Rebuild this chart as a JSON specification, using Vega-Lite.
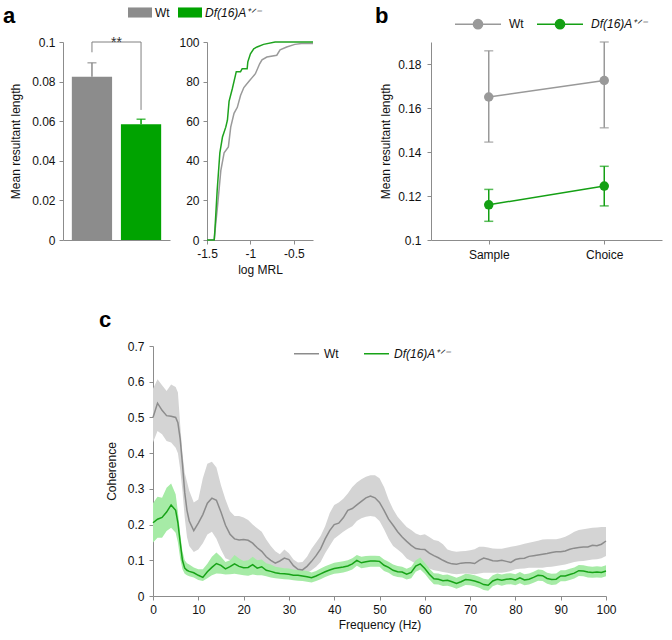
{
"$schema": "https://vega.github.io/schema/vega-lite/v6.json",
"background": "white",
"padding": {"left": 3, "top": 0, "right": 2, "bottom": 2},
"config": {
  "font": "Liberation Sans",
  "view": {"stroke": null},
  "axis": {"grid": false, "domainColor": "#8c8c8c", "tickColor": "#8c8c8c", "labelColor": "#111111", "titleColor": "#111111", "labelFontSize": 12, "titleFontSize": 12, "titleFontWeight": "normal", "tickSize": 4, "labelPadding": 4, "titlePadding": 9, "labelFont": "Liberation Sans", "titleFont": "Liberation Sans", "labelOverlap": false, "labelFlush": false},
  "legend": {"labelFontSize": 12, "labelColor": "#111111", "padding": 0, "labelFont": "Liberation Sans"},
  "title": {"fontSize": 22, "fontWeight": "bold", "anchor": "start", "frame": "group", "color": "#000000", "font": "Liberation Sans", "offset": 0}
},
"spacing": 34,
"resolve": {"scale": {"color": "independent"}, "legend": {"color": "independent"}},
"vconcat": [
 {
  "spacing": 59,
  "resolve": {"scale": {"color": "independent"}, "legend": {"color": "independent"}},
  "hconcat": [
   {
    "bounds": "flush",
    "spacing": 37,
    "resolve": {"scale": {"color": "independent"}, "legend": {"color": "independent"}},
    "hconcat": [
     {
      "width": 107, "height": 198,
      "title": {"text": "a", "dx": -60, "dy": 31.5},
      "data": {"values": [{"g": "Wt", "v": 0.0825, "err": 0.0895}, {"g": "Df", "v": 0.0585, "err": 0.061}]},
      "encoding": {
        "x": {"field": "g", "type": "nominal", "sort": ["Wt", "Df"], "scale": {"paddingInner": 0.18, "paddingOuter": 0.18}, "axis": {"labels": false, "ticks": false, "title": null}},
        "color": {"field": "g", "type": "nominal", "scale": {"domain": ["Wt", "Df"], "range": ["#8c8c8c", "#00a300"]},
          "legend": {"orient": "none", "legendX": 65, "legendY": -41.5, "direction": "horizontal", "title": null,
            "symbolType": "M-1,-0.42L1,-0.42L1,0.42L-1,0.42Z", "symbolSize": 576, "symbolStrokeWidth": 0,
            "columnPadding": 8, "labelOffset": 3,
            "labelExpr": "datum.value == 'Df' ? 'Df(16)A⁺ᐟ⁻' : 'Wt'",
            "encode": {"symbols": {"update": {"fill": {"signal": "datum.value == 'Df' ? '#00a300' : '#8c8c8c'"}, "opacity": {"value": 1}}},
                       "labels": {"update": {"fontStyle": {"signal": "datum.value == 'Df' ? 'italic' : 'normal'"}}}}}}
      },
      "layer": [
        {"mark": {"type": "bar"}, "encoding": {"y": {"field": "v", "type": "quantitative", "scale": {"domain": [0, 0.1], "nice": false}, "axis": {"values": [0, 0.02, 0.04, 0.06, 0.08, 0.1], "tickCount": 20, "format": "~g", "title": "Mean resultant length", "labelOverlap": false}}}},
        {"mark": {"type": "rule", "strokeWidth": 1.5}, "encoding": {"y": {"field": "v", "type": "quantitative"}, "y2": {"field": "err"}}},
        {"mark": {"type": "tick", "thickness": 1.5, "size": 9}, "encoding": {"y": {"field": "err", "type": "quantitative"}}},
        {"data": {"values": [{"g": "Wt", "y": 0.0948, "o": 1}, {"g": "Wt", "y": 0.1, "o": 2}, {"g": "Df", "y": 0.1, "o": 3}, {"g": "Df", "y": 0.0657, "o": 4}]},
         "mark": {"type": "line", "color": "#808080", "strokeWidth": 1},
         "encoding": {"y": {"field": "y", "type": "quantitative"}, "order": {"field": "o", "type": "quantitative"}, "color": {"value": "#808080"}}},
        {"data": {"values": [{"g": "Wt", "y": 0.1, "t": "**"}]},
         "mark": {"type": "text", "dx": 24.5, "dy": 5, "fontSize": 14, "baseline": "alphabetic", "align": "center"},
         "encoding": {"y": {"field": "y", "type": "quantitative"}, "text": {"field": "t"}, "color": {"value": "#333333"}}}
      ]
     },
     {
      "width": 106, "height": 198,
      "data": {"values": [
        {"g": "Wt", "x": -1.5, "p": 0}, {"g": "Wt", "x": -1.417, "p": 0}, {"g": "Wt", "x": -1.4, "p": 8}, {"g": "Wt", "x": -1.379, "p": 17},
        {"g": "Wt", "x": -1.341, "p": 35}, {"g": "Wt", "x": -1.303, "p": 44}, {"g": "Wt", "x": -1.254, "p": 47}, {"g": "Wt", "x": -1.227, "p": 57},
        {"g": "Wt", "x": -1.189, "p": 64}, {"g": "Wt", "x": -1.151, "p": 67}, {"g": "Wt", "x": -1.114, "p": 73}, {"g": "Wt", "x": -1.076, "p": 77},
        {"g": "Wt", "x": -1.019, "p": 80}, {"g": "Wt", "x": -0.981, "p": 82}, {"g": "Wt", "x": -0.943, "p": 84}, {"g": "Wt", "x": -0.894, "p": 89},
        {"g": "Wt", "x": -0.867, "p": 91}, {"g": "Wt", "x": -0.811, "p": 92.4}, {"g": "Wt", "x": -0.697, "p": 93.3}, {"g": "Wt", "x": -0.659, "p": 96},
        {"g": "Wt", "x": -0.583, "p": 97.5}, {"g": "Wt", "x": -0.489, "p": 98.8}, {"g": "Wt", "x": -0.413, "p": 99.2}, {"g": "Wt", "x": -0.28, "p": 99.2},
        {"g": "Df", "x": -1.5, "p": 0}, {"g": "Df", "x": -1.417, "p": 0}, {"g": "Df", "x": -1.409, "p": 5}, {"g": "Df", "x": -1.383, "p": 25},
        {"g": "Df", "x": -1.352, "p": 44}, {"g": "Df", "x": -1.322, "p": 52}, {"g": "Df", "x": -1.284, "p": 57}, {"g": "Df", "x": -1.265, "p": 60.5},
        {"g": "Df", "x": -1.246, "p": 70}, {"g": "Df", "x": -1.208, "p": 76.5}, {"g": "Df", "x": -1.163, "p": 85}, {"g": "Df", "x": -1.114, "p": 85},
        {"g": "Df", "x": -1.095, "p": 86.5}, {"g": "Df", "x": -1.038, "p": 86.5}, {"g": "Df", "x": -1.03, "p": 90}, {"g": "Df", "x": -1.0, "p": 94},
        {"g": "Df", "x": -0.962, "p": 96.6}, {"g": "Df", "x": -0.924, "p": 97.5}, {"g": "Df", "x": -0.849, "p": 98.8}, {"g": "Df", "x": -0.716, "p": 100},
        {"g": "Df", "x": -0.28, "p": 100}
      ]},
      "mark": {"type": "line", "strokeWidth": 1.5},
      "encoding": {
        "x": {"field": "x", "type": "quantitative", "scale": {"domain": [-1.5, -0.28], "nice": false, "zero": false}, "axis": {"values": [-1.5, -1, -0.5], "labelExpr": "'' + datum.value", "title": "log MRL", "titlePadding": 5, "labelFlush": false}},
        "y": {"field": "p", "type": "quantitative", "scale": {"domain": [0, 100], "nice": false}, "axis": {"values": [0, 20, 40, 60, 80, 100], "tickCount": 20, "title": null}},
        "color": {"field": "g", "type": "nominal", "sort": ["Wt", "Df"], "scale": {"domain": ["Wt", "Df"], "range": ["#9a9a9a", "#1ea31e"]}, "legend": null}
      }
     }
    ]
   },
   {
    "width": 231, "height": 198,
    "title": {"text": "b", "dx": -56, "dy": 32},
    "data": {"values": [
      {"g": "Wt", "c": "Sample", "m": 0.165, "lo": 0.1445, "hi": 0.186},
      {"g": "Wt", "c": "Choice", "m": 0.1725, "lo": 0.151, "hi": 0.19},
      {"g": "Df", "c": "Sample", "m": 0.116, "lo": 0.1085, "hi": 0.123},
      {"g": "Df", "c": "Choice", "m": 0.1245, "lo": 0.1155, "hi": 0.1335}
    ]},
    "encoding": {
      "x": {"field": "c", "type": "nominal", "sort": ["Sample", "Choice"], "scale": {"type": "point", "padding": 0.5}, "axis": {"title": null, "labelAngle": 0, "labelPadding": 5}},
      "color": {"field": "g", "type": "nominal", "scale": {"domain": ["Wt", "Df"], "range": ["#999999", "#14a014"]},
        "legend": {"orient": "none", "legendX": 23, "legendY": -42, "direction": "horizontal", "title": null,
          "symbolType": "M-1,0L1,0M0.2,0A0.2,0.2,0,1,1,-0.2,0A0.2,0.2,0,1,1,0.2,0Z", "symbolSize": 2116, "symbolStrokeWidth": 1.5,
          "columnPadding": 10, "labelOffset": 7,
          "labelExpr": "datum.value == 'Df' ? 'Df(16)A⁺ᐟ⁻' : 'Wt'",
          "encode": {"symbols": {"update": {"fill": {"signal": "datum.value == 'Df' ? '#14a014' : '#999999'"}, "stroke": {"signal": "datum.value == 'Df' ? '#14a014' : '#999999'"}, "opacity": {"value": 1}}},
                     "labels": {"update": {"fontStyle": {"signal": "datum.value == 'Df' ? 'italic' : 'normal'"}}}}}}
    },
    "layer": [
      {"mark": {"type": "rule", "strokeWidth": 1.5}, "encoding": {"y": {"field": "lo", "type": "quantitative", "scale": {"domain": [0.1, 0.19], "nice": false, "zero": false}, "axis": {"values": [0.1, 0.12, 0.14, 0.16, 0.18], "tickCount": 20, "format": "~g", "title": "Mean resultant length", "labelPadding": 6, "titlePadding": 5, "labelOverlap": false}}, "y2": {"field": "hi"}}},
      {"mark": {"type": "tick", "thickness": 1.5, "size": 9}, "encoding": {"y": {"field": "lo", "type": "quantitative"}}},
      {"mark": {"type": "tick", "thickness": 1.5, "size": 9}, "encoding": {"y": {"field": "hi", "type": "quantitative"}}},
      {"mark": {"type": "line", "strokeWidth": 1.5}, "encoding": {"y": {"field": "m", "type": "quantitative"}}},
      {"mark": {"type": "point", "filled": true, "size": 90, "opacity": 1}, "encoding": {"y": {"field": "m", "type": "quantitative"}}}
    ]
   }
  ]
 },
 {
  "spacing": 16,
  "resolve": {"scale": {"color": "independent"}, "legend": {"color": "independent"}},
  "hconcat": [
   {"width": 20, "height": 250, "data": {"values": []}, "mark": "point"},
   {
    "width": 453, "height": 250,
    "title": {"text": "c", "dx": -54, "dy": -4},
    "data": {"values": [
{"g":"Wt","f":0,"m":0.50,"lo":0.43,"hi":0.58},{"g":"Wt","f":1,"m":0.54,"lo":0.462,"hi":0.607},{"g":"Wt","f":2,"m":0.52,"lo":0.453,"hi":0.59},{"g":"Wt","f":3,"m":0.505,"lo":0.434,"hi":0.574},{"g":"Wt","f":4,"m":0.503,"lo":0.43,"hi":0.592},{"g":"Wt","f":5,"m":0.50,"lo":0.415,"hi":0.585},{"g":"Wt","f":5.5,"m":0.485,"lo":0.40,"hi":0.57},{"g":"Wt","f":6,"m":0.44,"lo":0.355,"hi":0.48},{"g":"Wt","f":6.5,"m":0.37,"lo":0.295,"hi":0.40},{"g":"Wt","f":7,"m":0.29,"lo":0.22,"hi":0.345},{"g":"Wt","f":7.5,"m":0.24,"lo":0.165,"hi":0.32},{"g":"Wt","f":8,"m":0.21,"lo":0.14,"hi":0.295},{"g":"Wt","f":9,"m":0.183,"lo":0.123,"hi":0.262},{"g":"Wt","f":10,"m":0.204,"lo":0.13,"hi":0.27},{"g":"Wt","f":11,"m":0.228,"lo":0.148,"hi":0.33},{"g":"Wt","f":12,"m":0.26,"lo":0.172,"hi":0.37},{"g":"Wt","f":13,"m":0.274,"lo":0.18,"hi":0.376},{"g":"Wt","f":14,"m":0.268,"lo":0.16,"hi":0.36},{"g":"Wt","f":15,"m":0.235,"lo":0.13,"hi":0.31},{"g":"Wt","f":16,"m":0.198,"lo":0.106,"hi":0.27},{"g":"Wt","f":17,"m":0.173,"lo":0.10,"hi":0.237},{"g":"Wt","f":18,"m":0.16,"lo":0.096,"hi":0.224},{"g":"Wt","f":19,"m":0.157,"lo":0.093,"hi":0.224},{"g":"Wt","f":20,"m":0.158,"lo":0.093,"hi":0.22},{"g":"Wt","f":21,"m":0.156,"lo":0.093,"hi":0.213},{"g":"Wt","f":22,"m":0.148,"lo":0.092,"hi":0.20},{"g":"Wt","f":23,"m":0.135,"lo":0.09,"hi":0.19},{"g":"Wt","f":24,"m":0.125,"lo":0.088,"hi":0.18},{"g":"Wt","f":25,"m":0.11,"lo":0.08,"hi":0.158},{"g":"Wt","f":26,"m":0.1,"lo":0.078,"hi":0.14},{"g":"Wt","f":27,"m":0.092,"lo":0.076,"hi":0.125},{"g":"Wt","f":28,"m":0.098,"lo":0.075,"hi":0.117},{"g":"Wt","f":29,"m":0.106,"lo":0.073,"hi":0.13},{"g":"Wt","f":30,"m":0.102,"lo":0.07,"hi":0.12},{"g":"Wt","f":31,"m":0.085,"lo":0.067,"hi":0.102},{"g":"Wt","f":32,"m":0.075,"lo":0.065,"hi":0.094},{"g":"Wt","f":33,"m":0.073,"lo":0.061,"hi":0.095},{"g":"Wt","f":34,"m":0.083,"lo":0.064,"hi":0.11},{"g":"Wt","f":35,"m":0.097,"lo":0.072,"hi":0.132},{"g":"Wt","f":36,"m":0.113,"lo":0.082,"hi":0.15},{"g":"Wt","f":37,"m":0.132,"lo":0.095,"hi":0.168},{"g":"Wt","f":38,"m":0.16,"lo":0.12,"hi":0.195},{"g":"Wt","f":39,"m":0.183,"lo":0.14,"hi":0.232},{"g":"Wt","f":40,"m":0.2,"lo":0.16,"hi":0.255},{"g":"Wt","f":41,"m":0.204,"lo":0.17,"hi":0.262},{"g":"Wt","f":42,"m":0.219,"lo":0.18,"hi":0.272},{"g":"Wt","f":43,"m":0.24,"lo":0.188,"hi":0.287},{"g":"Wt","f":44,"m":0.245,"lo":0.195,"hi":0.305},{"g":"Wt","f":45,"m":0.255,"lo":0.21,"hi":0.318},{"g":"Wt","f":46,"m":0.265,"lo":0.218,"hi":0.327},{"g":"Wt","f":47,"m":0.275,"lo":0.222,"hi":0.334},{"g":"Wt","f":48,"m":0.28,"lo":0.224,"hi":0.338},{"g":"Wt","f":49,"m":0.275,"lo":0.222,"hi":0.338},{"g":"Wt","f":50,"m":0.262,"lo":0.21,"hi":0.33},{"g":"Wt","f":51,"m":0.24,"lo":0.187,"hi":0.305},{"g":"Wt","f":52,"m":0.215,"lo":0.16,"hi":0.27},{"g":"Wt","f":53,"m":0.198,"lo":0.14,"hi":0.243},{"g":"Wt","f":54,"m":0.18,"lo":0.13,"hi":0.222},{"g":"Wt","f":55,"m":0.165,"lo":0.12,"hi":0.207},{"g":"Wt","f":56,"m":0.153,"lo":0.105,"hi":0.193},{"g":"Wt","f":57,"m":0.142,"lo":0.098,"hi":0.185},{"g":"Wt","f":58,"m":0.133,"lo":0.09,"hi":0.175},{"g":"Wt","f":59,"m":0.131,"lo":0.087,"hi":0.17},{"g":"Wt","f":60,"m":0.13,"lo":0.084,"hi":0.173},{"g":"Wt","f":61,"m":0.12,"lo":0.077,"hi":0.165},{"g":"Wt","f":62,"m":0.113,"lo":0.072,"hi":0.157},{"g":"Wt","f":63,"m":0.107,"lo":0.07,"hi":0.154},{"g":"Wt","f":64,"m":0.10,"lo":0.067,"hi":0.145},{"g":"Wt","f":65,"m":0.094,"lo":0.065,"hi":0.13},{"g":"Wt","f":66,"m":0.09,"lo":0.062,"hi":0.126},{"g":"Wt","f":67,"m":0.089,"lo":0.061,"hi":0.124},{"g":"Wt","f":68,"m":0.092,"lo":0.062,"hi":0.125},{"g":"Wt","f":69,"m":0.093,"lo":0.063,"hi":0.126},{"g":"Wt","f":70,"m":0.093,"lo":0.062,"hi":0.128},{"g":"Wt","f":71,"m":0.091,"lo":0.061,"hi":0.131},{"g":"Wt","f":72,"m":0.10,"lo":0.063,"hi":0.138},{"g":"Wt","f":73,"m":0.106,"lo":0.065,"hi":0.138},{"g":"Wt","f":74,"m":0.103,"lo":0.065,"hi":0.136},{"g":"Wt","f":75,"m":0.099,"lo":0.065,"hi":0.133},{"g":"Wt","f":76,"m":0.098,"lo":0.065,"hi":0.132},{"g":"Wt","f":77,"m":0.1,"lo":0.065,"hi":0.132},{"g":"Wt","f":78,"m":0.097,"lo":0.067,"hi":0.135},{"g":"Wt","f":79,"m":0.094,"lo":0.07,"hi":0.138},{"g":"Wt","f":80,"m":0.102,"lo":0.075,"hi":0.14},{"g":"Wt","f":81,"m":0.105,"lo":0.076,"hi":0.143},{"g":"Wt","f":82,"m":0.106,"lo":0.077,"hi":0.146},{"g":"Wt","f":83,"m":0.111,"lo":0.079,"hi":0.149},{"g":"Wt","f":84,"m":0.113,"lo":0.079,"hi":0.152},{"g":"Wt","f":85,"m":0.115,"lo":0.079,"hi":0.155},{"g":"Wt","f":86,"m":0.117,"lo":0.079,"hi":0.158},{"g":"Wt","f":87,"m":0.119,"lo":0.081,"hi":0.159},{"g":"Wt","f":88,"m":0.122,"lo":0.082,"hi":0.159},{"g":"Wt","f":89,"m":0.124,"lo":0.084,"hi":0.159},{"g":"Wt","f":90,"m":0.124,"lo":0.086,"hi":0.162},{"g":"Wt","f":91,"m":0.126,"lo":0.088,"hi":0.166},{"g":"Wt","f":92,"m":0.131,"lo":0.092,"hi":0.172},{"g":"Wt","f":93,"m":0.134,"lo":0.095,"hi":0.18},{"g":"Wt","f":94,"m":0.136,"lo":0.097,"hi":0.185},{"g":"Wt","f":95,"m":0.137,"lo":0.098,"hi":0.187},{"g":"Wt","f":96,"m":0.137,"lo":0.10,"hi":0.189},{"g":"Wt","f":97,"m":0.142,"lo":0.102,"hi":0.191},{"g":"Wt","f":98,"m":0.141,"lo":0.103,"hi":0.192},{"g":"Wt","f":99,"m":0.145,"lo":0.106,"hi":0.193},{"g":"Wt","f":100,"m":0.154,"lo":0.112,"hi":0.193},
{"g":"Df","f":0,"m":0.205,"lo":0.15,"hi":0.26},{"g":"Df","f":1,"m":0.215,"lo":0.163,"hi":0.278},{"g":"Df","f":2,"m":0.22,"lo":0.163,"hi":0.275},{"g":"Df","f":3,"m":0.235,"lo":0.182,"hi":0.303},{"g":"Df","f":4,"m":0.255,"lo":0.191,"hi":0.315},{"g":"Df","f":5,"m":0.24,"lo":0.177,"hi":0.285},{"g":"Df","f":5.5,"m":0.205,"lo":0.15,"hi":0.235},{"g":"Df","f":6,"m":0.15,"lo":0.105,"hi":0.175},{"g":"Df","f":6.5,"m":0.10,"lo":0.075,"hi":0.125},{"g":"Df","f":7,"m":0.078,"lo":0.062,"hi":0.10},{"g":"Df","f":7.5,"m":0.072,"lo":0.058,"hi":0.092},{"g":"Df","f":8,"m":0.069,"lo":0.055,"hi":0.088},{"g":"Df","f":9,"m":0.065,"lo":0.052,"hi":0.08},{"g":"Df","f":10,"m":0.058,"lo":0.045,"hi":0.075},{"g":"Df","f":11,"m":0.052,"lo":0.042,"hi":0.075},{"g":"Df","f":12,"m":0.068,"lo":0.05,"hi":0.09},{"g":"Df","f":13,"m":0.08,"lo":0.058,"hi":0.11},{"g":"Df","f":14,"m":0.091,"lo":0.063,"hi":0.122},{"g":"Df","f":15,"m":0.086,"lo":0.062,"hi":0.11},{"g":"Df","f":16,"m":0.076,"lo":0.06,"hi":0.095},{"g":"Df","f":17,"m":0.082,"lo":0.061,"hi":0.10},{"g":"Df","f":18,"m":0.09,"lo":0.062,"hi":0.115},{"g":"Df","f":19,"m":0.083,"lo":0.06,"hi":0.105},{"g":"Df","f":20,"m":0.079,"lo":0.058,"hi":0.098},{"g":"Df","f":21,"m":0.08,"lo":0.057,"hi":0.10},{"g":"Df","f":22,"m":0.088,"lo":0.06,"hi":0.11},{"g":"Df","f":23,"m":0.078,"lo":0.058,"hi":0.10},{"g":"Df","f":24,"m":0.082,"lo":0.058,"hi":0.102},{"g":"Df","f":25,"m":0.072,"lo":0.055,"hi":0.092},{"g":"Df","f":26,"m":0.069,"lo":0.052,"hi":0.088},{"g":"Df","f":27,"m":0.065,"lo":0.05,"hi":0.082},{"g":"Df","f":28,"m":0.063,"lo":0.048,"hi":0.08},{"g":"Df","f":29,"m":0.062,"lo":0.047,"hi":0.078},{"g":"Df","f":30,"m":0.061,"lo":0.046,"hi":0.077},{"g":"Df","f":31,"m":0.058,"lo":0.044,"hi":0.074},{"g":"Df","f":32,"m":0.058,"lo":0.043,"hi":0.073},{"g":"Df","f":33,"m":0.056,"lo":0.042,"hi":0.072},{"g":"Df","f":34,"m":0.054,"lo":0.04,"hi":0.07},{"g":"Df","f":35,"m":0.051,"lo":0.038,"hi":0.066},{"g":"Df","f":36,"m":0.056,"lo":0.042,"hi":0.07},{"g":"Df","f":37,"m":0.062,"lo":0.047,"hi":0.077},{"g":"Df","f":38,"m":0.068,"lo":0.053,"hi":0.083},{"g":"Df","f":39,"m":0.073,"lo":0.058,"hi":0.088},{"g":"Df","f":40,"m":0.077,"lo":0.062,"hi":0.093},{"g":"Df","f":41,"m":0.079,"lo":0.064,"hi":0.095},{"g":"Df","f":42,"m":0.081,"lo":0.066,"hi":0.097},{"g":"Df","f":43,"m":0.084,"lo":0.069,"hi":0.10},{"g":"Df","f":44,"m":0.09,"lo":0.074,"hi":0.106},{"g":"Df","f":45,"m":0.10,"lo":0.085,"hi":0.115},{"g":"Df","f":46,"m":0.093,"lo":0.078,"hi":0.11},{"g":"Df","f":47,"m":0.096,"lo":0.08,"hi":0.112},{"g":"Df","f":48,"m":0.098,"lo":0.082,"hi":0.113},{"g":"Df","f":49,"m":0.098,"lo":0.082,"hi":0.113},{"g":"Df","f":50,"m":0.097,"lo":0.082,"hi":0.112},{"g":"Df","f":51,"m":0.086,"lo":0.07,"hi":0.102},{"g":"Df","f":52,"m":0.08,"lo":0.065,"hi":0.096},{"g":"Df","f":53,"m":0.072,"lo":0.057,"hi":0.088},{"g":"Df","f":54,"m":0.068,"lo":0.053,"hi":0.084},{"g":"Df","f":55,"m":0.067,"lo":0.052,"hi":0.082},{"g":"Df","f":56,"m":0.061,"lo":0.046,"hi":0.076},{"g":"Df","f":57,"m":0.066,"lo":0.05,"hi":0.082},{"g":"Df","f":58,"m":0.084,"lo":0.068,"hi":0.10},{"g":"Df","f":59,"m":0.09,"lo":0.074,"hi":0.108},{"g":"Df","f":60,"m":0.077,"lo":0.062,"hi":0.093},{"g":"Df","f":61,"m":0.061,"lo":0.046,"hi":0.077},{"g":"Df","f":62,"m":0.048,"lo":0.033,"hi":0.064},{"g":"Df","f":63,"m":0.047,"lo":0.032,"hi":0.063},{"g":"Df","f":64,"m":0.043,"lo":0.028,"hi":0.059},{"g":"Df","f":65,"m":0.044,"lo":0.029,"hi":0.06},{"g":"Df","f":66,"m":0.04,"lo":0.025,"hi":0.056},{"g":"Df","f":67,"m":0.035,"lo":0.02,"hi":0.051},{"g":"Df","f":68,"m":0.04,"lo":0.025,"hi":0.056},{"g":"Df","f":69,"m":0.046,"lo":0.031,"hi":0.062},{"g":"Df","f":70,"m":0.045,"lo":0.03,"hi":0.061},{"g":"Df","f":71,"m":0.042,"lo":0.027,"hi":0.058},{"g":"Df","f":72,"m":0.038,"lo":0.023,"hi":0.054},{"g":"Df","f":73,"m":0.032,"lo":0.017,"hi":0.048},{"g":"Df","f":74,"m":0.03,"lo":0.015,"hi":0.046},{"g":"Df","f":75,"m":0.042,"lo":0.027,"hi":0.058},{"g":"Df","f":76,"m":0.047,"lo":0.032,"hi":0.063},{"g":"Df","f":77,"m":0.044,"lo":0.029,"hi":0.06},{"g":"Df","f":78,"m":0.047,"lo":0.032,"hi":0.063},{"g":"Df","f":79,"m":0.048,"lo":0.033,"hi":0.064},{"g":"Df","f":80,"m":0.045,"lo":0.03,"hi":0.061},{"g":"Df","f":81,"m":0.051,"lo":0.036,"hi":0.067},{"g":"Df","f":82,"m":0.045,"lo":0.03,"hi":0.061},{"g":"Df","f":83,"m":0.047,"lo":0.032,"hi":0.063},{"g":"Df","f":84,"m":0.052,"lo":0.037,"hi":0.068},{"g":"Df","f":85,"m":0.058,"lo":0.043,"hi":0.074},{"g":"Df","f":86,"m":0.057,"lo":0.042,"hi":0.073},{"g":"Df","f":87,"m":0.049,"lo":0.034,"hi":0.065},{"g":"Df","f":88,"m":0.046,"lo":0.031,"hi":0.062},{"g":"Df","f":89,"m":0.047,"lo":0.032,"hi":0.063},{"g":"Df","f":90,"m":0.056,"lo":0.041,"hi":0.072},{"g":"Df","f":91,"m":0.056,"lo":0.041,"hi":0.072},{"g":"Df","f":92,"m":0.06,"lo":0.045,"hi":0.076},{"g":"Df","f":93,"m":0.064,"lo":0.049,"hi":0.08},{"g":"Df","f":94,"m":0.071,"lo":0.056,"hi":0.087},{"g":"Df","f":95,"m":0.07,"lo":0.055,"hi":0.086},{"g":"Df","f":96,"m":0.067,"lo":0.052,"hi":0.083},{"g":"Df","f":97,"m":0.066,"lo":0.051,"hi":0.082},{"g":"Df","f":98,"m":0.067,"lo":0.052,"hi":0.083},{"g":"Df","f":99,"m":0.066,"lo":0.051,"hi":0.082},{"g":"Df","f":100,"m":0.07,"lo":0.055,"hi":0.086}
    ]},
    "encoding": {
      "x": {"field": "f", "type": "quantitative", "scale": {"domain": [0, 100], "nice": false}, "axis": {"values": [0, 10, 20, 30, 40, 50, 60, 70, 80, 90, 100], "tickCount": 20, "title": "Frequency (Hz)", "titlePadding": 4, "labelFlush": false}}
    },
    "resolve": {"scale": {"color": "independent"}, "legend": {"color": "independent"}},
    "layer": [
      {"mark": {"type": "area", "opacity": 1},
       "encoding": {
         "y": {"field": "lo", "type": "quantitative", "scale": {"domain": [0, 0.7], "nice": false}, "axis": {"values": [0, 0.1, 0.2, 0.3, 0.4, 0.5, 0.6, 0.7], "tickCount": 20, "format": "~g", "title": "Coherence", "labelPadding": 5, "labelOverlap": false}},
         "y2": {"field": "hi"},
         "color": {"field": "g", "type": "nominal", "scale": {"domain": ["Wt", "Df"], "range": ["#d4d4d4", "#a6eba6"]}, "legend": null}
       }},
      {"mark": {"type": "line", "strokeWidth": 1.5},
       "encoding": {
         "y": {"field": "m", "type": "quantitative"},
         "color": {"field": "g", "type": "nominal", "scale": {"domain": ["Wt", "Df"], "range": ["#8c8c8c", "#17a317"]},
           "legend": {"orient": "none", "legendX": 140, "legendY": -6, "direction": "horizontal", "title": null,
             "symbolType": "stroke", "symbolSize": 625, "symbolStrokeWidth": 1.5, "columnPadding": 22, "labelOffset": 4,
             "labelExpr": "datum.value == 'Df' ? 'Df(16)A⁺ᐟ⁻' : 'Wt'",
             "encode": {"labels": {"update": {"fontStyle": {"signal": "datum.value == 'Df' ? 'italic' : 'normal'"}}}}}}
       }}
    ]
   }
  ]
 }
]
}
